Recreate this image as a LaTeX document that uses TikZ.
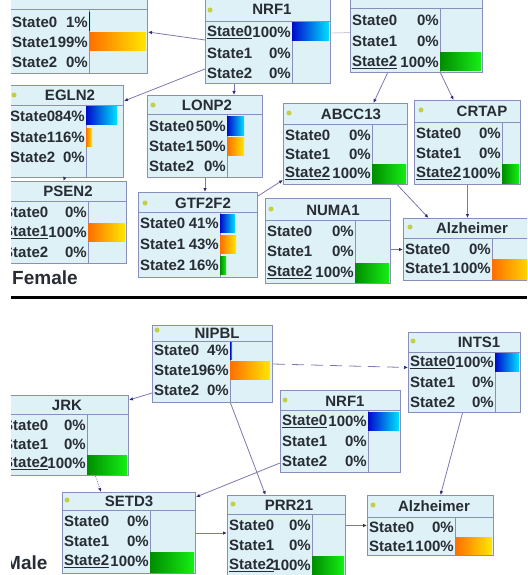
\documentclass[tikz,border=0pt]{standalone}
\usepackage{fontspec}
\setmainfont{Liberation Sans}
\usetikzlibrary{arrows.meta}

\definecolor{boxfill}{RGB}{221,241,246}
\definecolor{boxline}{RGB}{138,142,186}
\definecolor{linkc}{RGB}{128,118,176}
\definecolor{tipc}{RGB}{45,45,120}
\definecolor{txtc}{RGB}{40,44,52}
\definecolor{dotc}{RGB}{196,206,70}
\definecolor{bardark}{RGB}{0,10,205}
\definecolor{barcyan}{RGB}{0,225,255}
\definecolor{barorange}{RGB}{255,110,0}
\definecolor{baryellow}{RGB}{255,232,0}
\definecolor{bargreen}{RGB}{0,140,0}
\definecolor{barlime}{RGB}{20,240,20}

\tikzset{
  bnbox/.style={draw=boxline, fill=boxfill, line width=1pt, inner sep=0pt, anchor=north west},
  bnline/.style={boxline, line width=0.9pt},
  sttext/.style={font=\bfseries\fontsize{15}{17}\selectfont, text=txtc, inner sep=0pt},
  sexlabel/.style={font=\bfseries\fontsize{19}{22}\selectfont, text=txtc, inner sep=0pt, anchor=west},
  bluebar/.style={left color=bardark, right color=barcyan},
  orangebar/.style={left color=barorange, right color=baryellow},
  greenbar/.style={left color=bargreen, right color=barlime},
  link/.style={linkc, line width=0.8pt, -{Latex[length=4pt, width=3.5pt, color=tipc]}},
}

% box, row, text x, separator x, y, state, percent
\newcommand{\strow}[7]{%
  \node[sttext, anchor=west] (#1-s#2) at (#3,#5) {#6};
  \node[sttext, anchor=east] (#1-p#2) at (#4,#5) {#7};
}

\begin{document}
\begin{tikzpicture}[x=1pt, y=-1pt]
\useasboundingbox (0,0) rectangle (527,575);
\clip (11,0) rectangle (527,575);

% ---------------- female network ----------------
\node[bnbox, minimum width=142pt, minimum height=93pt] (topleft) at (5,-20) {};
\draw[bnline] (5,9) -- (147,9);
\draw[bnline] (89,9) -- (89,73);
\shade[bluebar] (89,13) rectangle (90,31);
\shade[orangebar] (89,33) rectangle (146,51);
\strow{topleft}{0}{12}{88}{22}{State0}{1\%}
\strow{topleft}{1}{12}{88}{42}{State1}{99\%}
\strow{topleft}{2}{12}{88}{62}{State2}{0\%}

\node[bnbox, minimum width=125pt, minimum height=87pt] (nrf1f) at (205,-4) {};
\draw[bnline] (205,21) -- (330,21);
\draw[bnline] (292,21) -- (292,83);
\shade[bluebar] (292,23) rectangle (329,41);
\fill[dotc] (210,10) circle (2.5);
\node[sttext] (nrf1f-t) at (272,9) {NRF1};
\strow{nrf1f}{0}{207}{291}{32}{\underline{State0}}{100\%}
\strow{nrf1f}{1}{207}{291}{53}{State1}{0\%}
\strow{nrf1f}{2}{207}{291}{73}{State2}{0\%}

\node[bnbox, minimum width=132pt, minimum height=92pt] (topright) at (350,-20) {};
\draw[bnline] (350,8) -- (482,8);
\draw[bnline] (440,8) -- (440,72);
\shade[greenbar] (440,53) rectangle (481,71);
\strow{topright}{0}{352}{439}{20}{State0}{0\%}
\strow{topright}{1}{352}{439}{41}{State1}{0\%}
\strow{topright}{2}{352}{439}{62}{\underline{State2}}{100\%}

\node[bnbox, minimum width=118pt, minimum height=92pt] (egln2) at (5,85) {};
\draw[bnline] (5,105) -- (123,105);
\draw[bnline] (86,105) -- (86,177);
\shade[bluebar] (86,107) rectangle (117,125);
\shade[orangebar] (86,128) rectangle (92,146);
\fill[dotc] (14,95) circle (2.5);
\node[sttext] (egln2-t) at (70,95) {EGLN2};
\strow{egln2}{0}{10}{85}{116}{State0}{84\%}
\strow{egln2}{1}{10}{85}{137}{State1}{16\%}
\strow{egln2}{2}{10}{85}{157}{State2}{0\%}

\node[bnbox, minimum width=115pt, minimum height=82pt] (lonp2) at (147,95) {};
\draw[bnline] (147,114) -- (262,114);
\draw[bnline] (227,114) -- (227,177);
\shade[bluebar] (227,117) rectangle (244,135);
\shade[orangebar] (227,137) rectangle (244,155);
\fill[dotc] (153,105) circle (2.5);
\node[sttext] (lonp2-t) at (207,105) {LONP2};
\strow{lonp2}{0}{149}{226}{126}{State0}{50\%}
\strow{lonp2}{1}{149}{226}{146}{State1}{50\%}
\strow{lonp2}{2}{149}{226}{166}{State2}{0\%}

\node[bnbox, minimum width=126pt, minimum height=82pt] (psen2) at (0,181) {};
\draw[bnline] (0,201) -- (126,201);
\draw[bnline] (88,201) -- (88,263);
\shade[orangebar] (88,223) rectangle (125,241);
\node[sttext] (psen2-t) at (68,191) {PSEN2};
\strow{psen2}{0}{3}{87}{212}{State0}{0\%}
\strow{psen2}{1}{3}{87}{232}{\underline{State1}}{100\%}
\strow{psen2}{2}{3}{87}{252}{State2}{0\%}

\node[bnbox, minimum width=119pt, minimum height=85pt] (gtf2f2) at (138,192) {};
\draw[bnline] (138,212) -- (257,212);
\draw[bnline] (220,212) -- (220,277);
\shade[bluebar] (220,214) rectangle (235,232);
\shade[orangebar] (220,235) rectangle (236,253);
\shade[greenbar] (220,256) rectangle (226,274);
\fill[dotc] (145,203) circle (2.5);
\node[sttext] (gtf2f2-t) at (203,203) {GTF2F2};
\strow{gtf2f2}{0}{140}{219}{223}{State0}{41\%}
\strow{gtf2f2}{1}{140}{219}{244}{State1}{43\%}
\strow{gtf2f2}{2}{140}{219}{265}{State2}{16\%}

\node[bnbox, minimum width=124pt, minimum height=81pt] (abcc13) at (283,103) {};
\draw[bnline] (283,124) -- (407,124);
\draw[bnline] (372,124) -- (372,184);
\shade[greenbar] (372,164) rectangle (406,183);
\fill[dotc] (289,113) circle (2.5);
\node[sttext] (abcc13-t) at (351,114) {ABCC13};
\strow{abcc13}{0}{285}{371}{135}{State0}{0\%}
\strow{abcc13}{1}{285}{371}{154}{State1}{0\%}
\strow{abcc13}{2}{285}{371}{173}{\underline{State2}}{100\%}

\node[bnbox, minimum width=106pt, minimum height=84pt] (crtap) at (414,100) {};
\draw[bnline] (414,122) -- (520,122);
\draw[bnline] (502,122) -- (502,184);
\shade[greenbar] (502,164) rectangle (519,183);
\fill[dotc] (421,110) circle (2.5);
\node[sttext] (crtap-t) at (482,111) {CRTAP};
\strow{crtap}{0}{416}{501}{133}{State0}{0\%}
\strow{crtap}{1}{416}{501}{153}{State1}{0\%}
\strow{crtap}{2}{416}{501}{173}{\underline{State2}}{100\%}

\node[bnbox, minimum width=125pt, minimum height=85pt] (numa1) at (265,198) {};
\draw[bnline] (265,220) -- (390,220);
\draw[bnline] (355,220) -- (355,283);
\shade[greenbar] (355,263) rectangle (389,282);
\fill[dotc] (271,209) circle (2.5);
\node[sttext] (numa1-t) at (333,210) {NUMA1};
\strow{numa1}{0}{267}{354}{231}{State0}{0\%}
\strow{numa1}{1}{267}{354}{251}{State1}{0\%}
\strow{numa1}{2}{267}{354}{272}{\underline{State2}}{100\%}

\node[bnbox, minimum width=132pt, minimum height=62pt] (alzf) at (403,218) {};
\draw[bnline] (403,238) -- (535,238);
\draw[bnline] (492,238) -- (492,280);
\shade[orangebar] (492,259) rectangle (534,279);
\fill[dotc] (410,227) circle (2.5);
\node[sttext] (alzf-t) at (472,228) {Alzheimer};
\strow{alzf}{0}{405}{491}{249}{State0}{0\%}
\strow{alzf}{1}{405}{491}{268}{State1}{100\%}

\draw[link, {Latex[length=4pt, width=3.5pt, color=tipc]}-] ([yshift=-5pt]topleft.east) -- (nrf1f.west);
\draw[linkc!40, line width=0.8pt] ([yshift=7pt]nrf1f.east) -- ([yshift=-6pt]topright.west);
\draw[link] ([yshift=15pt]nrf1f.south west) -- ([yshift=-16pt]egln2.north east);
\draw[link] ([xshift=-34pt]nrf1f.south) -- ([xshift=-34pt]nrf1f.south |- lonp2.north);
\draw[link] (egln2.south) -- (psen2.north);
\draw[link] (lonp2.south) -- (lonp2.south |- gtf2f2.north);
\draw[link] ([xshift=-29pt]topright.south) -- ([xshift=28pt]abcc13.north);
\draw[link] ([xshift=24pt]topright.south) -- ([xshift=-14pt]crtap.north);
\draw[link] ([yshift=-4pt]gtf2f2.north east) -- ([yshift=5pt]abcc13.south west);
\draw[link] ([xshift=52pt]abcc13.south) -- ([xshift=-41pt]alzf.north);
\draw[link] (crtap.south) -- (crtap.south |- alzf.north);
\draw[link] (numa1.east |- alzf.west) -- (alzf.west);

\node[sexlabel] (female) at (12,278) {Female};
\draw[line width=3pt] (11,297) -- (527,297);

% ---------------- male network ----------------
\node[bnbox, minimum width=120pt, minimum height=77pt] (nipbl) at (152,325) {};
\draw[bnline] (152,341) -- (272,341);
\draw[bnline] (230,341) -- (230,402);
\shade[bluebar] (230,342) rectangle (232,359);
\shade[orangebar] (230,361) rectangle (270,379);
\fill[dotc] (157,330) circle (2.5);
\node[sttext] (nipbl-t) at (217,333) {NIPBL};
\strow{nipbl}{0}{154}{229}{350}{State0}{4\%}
\strow{nipbl}{1}{154}{229}{370}{State1}{96\%}
\strow{nipbl}{2}{154}{229}{390}{State2}{0\%}

\node[bnbox, minimum width=112pt, minimum height=80pt] (ints1) at (408,332) {};
\draw[bnline] (408,352) -- (520,352);
\draw[bnline] (495,352) -- (495,412);
\shade[bluebar] (495,353) rectangle (519,371);
\fill[dotc] (413,341) circle (2.5);
\node[sttext] (ints1-t) at (479,342) {INTS1};
\strow{ints1}{0}{410}{494}{362}{\underline{State0}}{100\%}
\strow{ints1}{1}{410}{494}{382}{State1}{0\%}
\strow{ints1}{2}{410}{494}{402}{State2}{0\%}

\node[bnbox, minimum width=128pt, minimum height=80pt] (jrk) at (0,395) {};
\draw[bnline] (0,414) -- (128,414);
\draw[bnline] (87,414) -- (87,475);
\shade[greenbar] (87,455) rectangle (127,474);
\node[sttext] (jrk-t) at (67,405) {JRK};
\strow{jrk}{0}{3}{86}{425}{State0}{0\%}
\strow{jrk}{1}{3}{86}{444}{State1}{0\%}
\strow{jrk}{2}{3}{86}{463}{\underline{State2}}{100\%}

\node[bnbox, minimum width=120pt, minimum height=82pt] (nrf1m) at (280,390) {};
\draw[bnline] (280,410) -- (400,410);
\draw[bnline] (368,410) -- (368,472);
\shade[bluebar] (368,412) rectangle (399,430);
\fill[dotc] (285,400) circle (2.5);
\node[sttext] (nrf1m-t) at (345,401) {NRF1};
\strow{nrf1m}{0}{282}{367}{421}{\underline{State0}}{100\%}
\strow{nrf1m}{1}{282}{367}{441}{State1}{0\%}
\strow{nrf1m}{2}{282}{367}{461}{State2}{0\%}

\node[bnbox, minimum width=133pt, minimum height=81pt] (setd3) at (62,492) {};
\draw[bnline] (62,510) -- (195,510);
\draw[bnline] (150,510) -- (150,573);
\shade[greenbar] (150,552) rectangle (194,572);
\fill[dotc] (67,500) circle (2.5);
\node[sttext] (setd3-t) at (129,501) {SETD3};
\strow{setd3}{0}{64}{149}{521}{State0}{0\%}
\strow{setd3}{1}{64}{149}{541}{State1}{0\%}
\strow{setd3}{2}{64}{149}{561}{\underline{State2}}{100\%}

\node[bnbox, minimum width=118pt, minimum height=82pt] (prr21) at (227,495) {};
\draw[bnline] (227,514) -- (345,514);
\draw[bnline] (312,514) -- (312,577);
\shade[greenbar] (312,556) rectangle (344,575);
\fill[dotc] (233,504) circle (2.5);
\node[sttext] (prr21-t) at (289,505) {PRR21};
\strow{prr21}{0}{229}{311}{525}{State0}{0\%}
\strow{prr21}{1}{229}{311}{545}{State1}{0\%}
\strow{prr21}{2}{229}{311}{565}{\underline{State2}}{100\%}

\node[bnbox, minimum width=126pt, minimum height=60pt] (alzm) at (367,495) {};
\draw[bnline] (367,517) -- (493,517);
\draw[bnline] (455,517) -- (455,555);
\shade[orangebar] (455,537) rectangle (492,554);
\fill[dotc] (373,505) circle (2.5);
\node[sttext] (alzm-t) at (434,506) {Alzheimer};
\strow{alzm}{0}{369}{454}{527}{State0}{0\%}
\strow{alzm}{1}{369}{454}{546}{State1}{100\%}

\draw[link, dash pattern=on 12pt off 7pt] (nipbl.east) -- ([yshift=5pt]ints1.west);
\draw[link] ([yshift=10pt]nipbl.south west) -- ([yshift=-5pt]jrk.north east);
\draw[link] ([xshift=18pt]nipbl.south) -- ([xshift=-21pt]prr21.north);
\draw[link] ([yshift=10pt]nrf1m.south west) -- ([yshift=-5pt]setd3.north east);
\draw[link] ([xshift=-2pt]ints1.south) -- ([xshift=10pt]alzm.north);
\draw[link, densely dotted] ([xshift=31pt]jrk.south) -- ([xshift=-28pt]setd3.north);
\draw[link] (setd3.east) -- (setd3.east -| prr21.west);
\draw[link] (prr21.east |- alzm.west) -- (alzm.west);

\node[sexlabel] (male) at (5,563) {Male};
\end{tikzpicture}
\end{document}
